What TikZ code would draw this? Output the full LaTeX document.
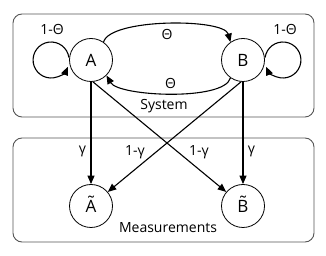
\documentclass[tikz,border=0pt]{standalone}
\usepackage{fontspec}
\setmainfont{Open Sans}
\usepackage{tikz}
\usetikzlibrary{arrows.meta,positioning}
\definecolor{boxgray}{RGB}{85,85,85}
\newcommand{\tld}[1]{\ooalign{#1\cr\hidewidth\raisebox{0.22em}{\char"02DC}\hidewidth\cr}}

\begin{document}
\begin{tikzpicture}[
      x=1pt, y=1pt,
      font=\fontsize{14}{16}\selectfont,
      arr/.style={-{Triangle[length=8.5pt,width=7pt]}, line width=1.1pt, black},
      frame/.style={draw=boxgray, line width=0.9pt, rounded corners=9pt},
      state/.style={draw, circle, line width=0.8pt, minimum size=43pt, inner sep=0pt,
                    font=\fontsize{17}{19}\selectfont},
      lbl/.style={inner sep=1pt}
    ]
    \useasboundingbox (0,0) rectangle (326,256);

    % the two groups
    \draw[frame] (13,139) rectangle (314,242);
    \draw[frame] (13,14) rectangle (314,118);
    \node[lbl] (sys) at (164,150) {System};
    \node[lbl] (meas) at (168,28) {Measurements};

    % states and measured states
    \node[state] (A) at (91,196) {A};
    \node[state] (B) at (243,196) {B};
    \node[state] (At) at (91,50) {\tld{A}};
    \node[state] (Bt) at (243,50) {\tld{B}};

    % staying
    \draw[arr] ([shift={(-0.2,2.5)}]A.west) arc[start angle=8, end angle=338, radius=18pt];
    \draw[arr] ([shift={(0.2,2.5)}]B.east) arc[start angle=172, end angle=-158, radius=18pt];
    \node[lbl] (stayA) at (52,227) {1-Θ};
    \node[lbl] (stayB) at (285,227) {1-Θ};

    % switching
    \draw[arr] (A.55) to[out=75, in=105, looseness=0.5]
      node[midway, below=1pt] {Θ} (B.125);
    \draw[arr] (B.235) to[out=-105, in=-60, looseness=0.5]
      node[midway, above=1pt] {Θ} (A.-45);

    % measuring
    \draw[arr] (A.south) -- node[pos=0.68, left=1pt] {γ} (At.north);
    \draw[arr] (B.south) -- node[pos=0.68, right=1pt] {γ} (Bt.north);
    \draw[arr] (A.-85) -- node[pos=0.64, right=7pt] {1-γ} (Bt.140);
    \draw[arr] (B.-95) -- node[pos=0.64, left=7pt] {1-γ} (At.40);
  \end{tikzpicture}
\end{document}
